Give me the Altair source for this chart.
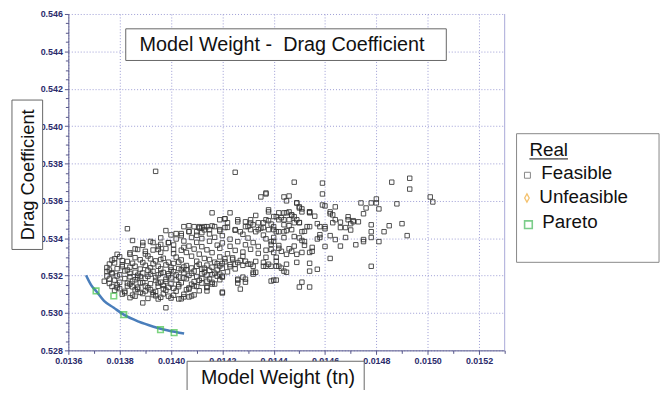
import altair as alt
import pandas as pd

# ---------------- data ----------------
core_points = [
    (.01380, .53301), (.01386, .53296), (.01391, .53305), (.01397, .53293), (.01402, .53299), (.01408, .53304), (.01413, .53292), (.01419, .53300), (.01424, .53295),
    (.01377, .53283), (.01383, .53276), (.01388, .53285), (.01394, .53279), (.01399, .53272), (.01404, .53284), (.01410, .53277), (.01415, .53286), (.01421, .53274), (.01427, .53281), (.01433, .53276),
    (.01376, .53262), (.01381, .53258), (.01385, .53266), (.01390, .53255), (.01393, .53263), (.01398, .53257), (.01401, .53265), (.01406, .53254), (.01411, .53261), (.01414, .53256), (.01418, .53264), (.01423, .53259), (.01430, .53262),
    (.01375, .53243), (.01379, .53237), (.01384, .53245), (.01388, .53235), (.01392, .53242), (.01396, .53236), (.01400, .53244), (.01403, .53238), (.01408, .53241), (.01412, .53234), (.01416, .53245), (.01420, .53239), (.01425, .53236),
    (.01375, .53222), (.01377, .53216), (.01382, .53225), (.01386, .53218), (.01389, .53214), (.01393, .53223), (.01397, .53217), (.01401, .53221), (.01405, .53215), (.01409, .53224), (.01413, .53219), (.01417, .53213), (.01422, .53220),
    (.01375, .53198), (.01380, .53205), (.01384, .53194), (.01387, .53202), (.01391, .53196), (.01395, .53204), (.01399, .53199), (.01403, .53193), (.01407, .53201), (.01410, .53195), (.01414, .53203), (.01418, .53197),
    (.01376, .53182), (.01378, .53176), (.01382, .53184), (.01386, .53178), (.01390, .53185), (.01394, .53174), (.01398, .53181), (.01402, .53177), (.01406, .53183), (.01411, .53175), (.01415, .53182), (.01419, .53178),
    (.01376, .53158), (.01380, .53164), (.01384, .53155), (.01388, .53161), (.01392, .53157), (.01396, .53165), (.01400, .53156), (.01404, .53162), (.01408, .53154), (.01412, .53160), (.01416, .53164),
    (.01377, .53142), (.01379, .53136), (.01383, .53144), (.01387, .53138), (.01391, .53135), (.01395, .53143), (.01399, .53137), (.01403, .53141), (.01407, .53134), (.01410, .53142), (.01414, .53136),
    (.01378, .53121), (.01382, .53116), (.01386, .53124), (.01390, .53118), (.01394, .53115), (.01398, .53122), (.01402, .53117), (.01406, .53125), (.01411, .53119),
    (.01381, .53101), (.01385, .53096), (.01389, .53104), (.01393, .53098), (.01397, .53102), (.01401, .53095), (.01405, .53100), (.01409, .53097),
    (.01384, .53082), (.01391, .53078), (.01396, .53084), (.01400, .53080), (.01404, .53076),
    (.01378, .53290), (.01389, .53270), (.01395, .53250), (.01383, .53230), (.01392, .53208), (.01400, .53188), (.01385, .53170), (.01397, .53148),
    (.01407, .53128), (.01393, .53110), (.01379, .53150), (.01404, .53231), (.01412, .53210), (.01419, .53252), (.01396, .53286), (.01388, .53195),
    (.01377, .53210), (.01409, .53168), (.01401, .53132), (.01387, .53128), (.01382, .53108), (.01415, .53228), (.01399, .53210), (.01405, .53246), (.01386, .53250),
    (.01378, .53268), (.01381, .53248), (.01384, .53212), (.01387, .53188), (.01389, .53162), (.01391, .53228), (.01394, .53190), (.01396, .53212),
    (.01398, .53168), (.01400, .53230), (.01402, .53204), (.01403, .53152), (.01405, .53188), (.01406, .53232), (.01408, .53212), (.01409, .53145),
    (.01410, .53250), (.01412, .53185), (.01413, .53240), (.01414, .53170), (.01416, .53205), (.01417, .53272), (.01418, .53230), (.01420, .53265),
    (.01421, .53290), (.01423, .53248), (.01426, .53270), (.01428, .53255), (.01380, .53130), (.01383, .53160), (.01385, .53140), (.01388, .53110),
    (.01390, .53145), (.01392, .53125), (.01395, .53160), (.01397, .53130), (.01399, .53090), (.01394, .53092), (.01386, .53090), (.01379, .53198),
    (.01376, .53230), (.01374, .53170), (.01381, .53280), (.01392, .53290), (.01403, .53272),
]

band_points = [
    (.01405, .53462), (.01411, .53455), (.01416, .53466), (.01422, .53458), (.01430, .53463), (.01435, .53454),
    (.01398, .53441), (.01407, .53436), (.01413, .53445), (.01419, .53438), (.01425, .53443), (.01433, .53435), (.01440, .53446),
    (.01400, .53418), (.01404, .53425), (.01410, .53416), (.01415, .53423), (.01420, .53414), (.01428, .53421), (.01436, .53417),
    (.01396, .53402), (.01402, .53396), (.01408, .53404), (.01412, .53398), (.01417, .53405), (.01423, .53395), (.01430, .53401), (.01437, .53397), (.01444, .53403),
    (.01392, .53383), (.01399, .53376), (.01405, .53385), (.01410, .53378), (.01415, .53384), (.01420, .53375), (.01426, .53382), (.01432, .53377), (.01440, .53384),
    (.01389, .53362), (.01395, .53356), (.01401, .53364), (.01407, .53358), (.01412, .53355), (.01418, .53363), (.01423, .53357), (.01429, .53365), (.01434, .53356), (.01442, .53361), (.01448, .53358),
    (.01386, .53343), (.01393, .53337), (.01398, .53345), (.01404, .53336), (.01409, .53342), (.01414, .53338), (.01419, .53346), (.01425, .53335), (.01431, .53341), (.01437, .53336), (.01446, .53344),
    (.01384, .53322), (.01390, .53316), (.01396, .53325), (.01401, .53318), (.01406, .53324), (.01411, .53315), (.01416, .53323), (.01422, .53317), (.01428, .53326), (.01434, .53319), (.01440, .53324),
]

upper_points = [
    (.01433, .53522), (.01440, .53516), (.01447, .53524), (.01456, .53518), (.01463, .53525),
    (.01431, .53482), (.01439, .53476), (.01450, .53484), (.01457, .53478), (.01466, .53486),
    (.01445, .53441), (.01452, .53437), (.01470, .53444),
    (.01450, .53402), (.01457, .53396), (.01468, .53404),
    (.01452, .53362), (.01466, .53358), (.01472, .53365),
]

sparse_points = [
    (.01394, .53758), (.01425, .53753), (.01448, .53700), (.01459, .53695), (.01486, .53700), (.01493, .53721), (.01493, .53663),
    (.01501, .53621), (.01502, .53594), (.01459, .53637), (.01435, .53621), (.01437, .53637), (.01437, .53642),
    (.01444, .53621), (.01446, .53626), (.01445, .53600), (.01449, .53589), (.01450, .53562), (.01451, .53557), (.01454, .53541),
    (.01454, .53536), (.01459, .53578), (.01460, .53573), (.01462, .53541), (.01462, .53531), (.01464, .53568), (.01469, .53515),
    (.01469, .53499), (.01471, .53488), (.01464, .53499), (.01463, .53483), (.01466, .53457), (.01468, .53457), (.01458, .53462),
    (.01454, .53462), (.01451, .53435), (.01460, .53462), (.01460, .53451), (.01458, .53419), (.01462, .53414), (.01464, .53393),
    (.01458, .53404), (.01448, .53409), (.01451, .53388), (.01455, .53351), (.01455, .53330), (.01460, .53356), (.01462, .53292),
    (.01457, .53234), (.01454, .53266), (.01454, .53224), (.01451, .53324), (.01449, .53314), (.01449, .53271), (.01447, .53330),
    (.01445, .53314), (.01443, .53330), (.01442, .53346), (.01445, .53261), (.01445, .53218), (.01444, .53224), (.01443, .53240),
    (.01441, .53250), (.01440, .53176), (.01441, .53176), (.01451, .53165), (.01454, .53139), (.01450, .53139),
    (.01480, .53610), (.01478, .53589), (.01480, .53589), (.01474, .53589), (.01476, .53562), (.01481, .53557), (.01488, .53584),
    (.01475, .53531), (.01471, .53494), (.01473, .53488), (.01470, .53478), (.01478, .53472), (.01485, .53467), (.01490, .53478),
    (.01483, .53435), (.01478, .53435), (.01492, .53414), (.01478, .53404), (.01475, .53393), (.01475, .53382), (.01481, .53382),
    (.01478, .53250),
    (.01442, .53536), (.01444, .53536), (.01446, .53541), (.01441, .53515), (.01443, .53510), (.01444, .53499), (.01446, .53499),
    (.01448, .53515), (.01449, .53499), (.01448, .53483), (.01450, .53483), (.01444, .53472), (.01446, .53467), (.01447, .53446),
    (.01440, .53462), (.01441, .53435), (.01442, .53435), (.01444, .53435), (.01440, .53404), (.01439, .53382), (.01439, .53367),
    (.01439, .53340), (.01437, .53298), (.01441, .53298), (.01441, .53277), (.01439, .53250), (.01437, .53499), (.01438, .53541),
    (.01416, .53536), (.01423, .53536), (.01421, .53504), (.01426, .53488), (.01438, .53494), (.01436, .53483), (.01429, .53488),
    (.01432, .53472), (.01414, .53462), (.01417, .53462), (.01412, .53457), (.01409, .53462), (.01407, .53435), (.01410, .53435),
    (.01412, .53430), (.01415, .53446), (.01419, .53446), (.01421, .53457), (.01425, .53446), (.01427, .53435), (.01431, .53446),
    (.01434, .53446), (.01436, .53457), (.01438, .53446),
    (.01383, .53451), (.01385, .53388), (.01389, .53377), (.01393, .53377), (.01396, .53367), (.01399, .53377), (.01402, .53425),
    (.01404, .53414), (.01387, .53340), (.01390, .53330), (.01395, .53340), (.01401, .53340), (.01405, .53351), (.01384, .53314),
    (.01379, .53314),
    (.01419, .53208), (.01420, .53192), (.01417, .53155), (.01414, .53118), (.01420, .53112), (.01426, .53176), (.01426, .53160),
    (.01428, .53192), (.01429, .53165), (.01427, .53128), (.01432, .53208), (.01433, .53218), (.01439, .53171), (.01407, .53086),
    (.01405, .53086), (.01425, .53261), (.01429, .53277), (.01431, .53261), (.01432, .53250), (.01436, .53250), (.01438, .53261),
    (.01428, .53303), (.01424, .53287), (.01420, .53107),
    (.01398, .53028), (.01389, .53054), (.01395, .53075), (.01408, .53091), (.01403, .53075),
    (.01407, .53467), (.01411, .53462), (.01413, .53462), (.01419, .53499), (.01421, .53504), (.01422, .53483), (.01426, .53499),
    (.01429, .53462), (.01431, .53499), (.01434, .53483), (.01438, .53552), (.01442, .53499), (.01445, .53536), (.01447, .53525),
    (.01449, .53589), (.01450, .53568), (.01451, .53541), (.01454, .53541), (.01453, .53462), (.01452, .53382), (.01454, .53324),
    (.01442, .53250), (.01437, .53250), (.01436, .53271), (.01432, .53218), (.01429, .53181), (.01426, .53181), (.01420, .53197),
    (.01416, .53155), (.01414, .53139),
]

pareto_weight = [0.013708, 0.013777, 0.013816, 0.013959, 0.014012]
pareto_drag = [0.53118, 0.53091, 0.52991, 0.52911, 0.52895]

front_weight = [0.013669, 0.013689, 0.013708, 0.013739, 0.013777, 0.013816, 0.013874, 0.013932, 0.013989, 0.014051]
front_drag = [0.53202, 0.53149, 0.53118, 0.53065, 0.53028, 0.52991, 0.52954, 0.52927, 0.52906, 0.52890]

x_tick_values = [0.0136, 0.0137, 0.0138, 0.0139, 0.0140, 0.0141, 0.0142, 0.0143, 0.0144,
                 0.0145, 0.0146, 0.0147, 0.0148, 0.0149, 0.0150, 0.0151, 0.0152, 0.0153]
y_tick_values = [0.528, 0.5285, 0.529, 0.5295, 0.530, 0.5305, 0.531, 0.5315, 0.532, 0.5325,
                 0.533, 0.5335, 0.534, 0.5345, 0.535, 0.5355, 0.536, 0.5365, 0.537, 0.5375,
                 0.538, 0.5385, 0.539, 0.5395, 0.540, 0.5405, 0.541, 0.5415, 0.542, 0.5425,
                 0.543, 0.5435, 0.544, 0.5445, 0.545, 0.5455, 0.546]

legend_items = ["Feasible", "Unfeasible", "Pareto"]

# ---------------- chart ----------------
feasible = pd.DataFrame(core_points + band_points + upper_points + sparse_points, columns=["weight", "drag"])
pareto = pd.DataFrame({"weight": pareto_weight, "drag": pareto_drag})
front = pd.DataFrame({"weight": front_weight, "drag": front_drag, "order": list(range(len(front_weight)))})

W, H = 441, 340
x_scale = alt.Scale(domain=[0.0136, 0.0153], nice=False, zero=False)
y_scale = alt.Scale(domain=[0.528, 0.546], nice=False, zero=False)

AXIS_COL = "#55558a"
GRID_COL = "#9c9cd4"
LAB_COL = "#2b2b6b"

x_major = "round(datum.value*10000) % 2 == 0"
y_major = "round(datum.value*2000) % 4 == 0"

x_axis = alt.Axis(
    values=x_tick_values, title=None,
    labelExpr=f"{x_major} ? format(datum.value, '.4f') : ''",
    labelOverlap=False, labelFlush=False, labelBound=False,
    grid=True, gridDash=[1, 2], gridColor=GRID_COL, gridWidth=1,
    gridOpacity={"condition": {"test": x_major, "value": 1}, "value": 0},
    tickSize={"condition": {"test": x_major, "value": 4}, "value": 3},
    domainColor=AXIS_COL, tickColor=AXIS_COL,
    labelFont="Liberation Sans", labelFontWeight="bold", labelFontSize=9,
    labelColor=LAB_COL, labelPadding=2,
)
y_axis = alt.Axis(
    values=y_tick_values, title=None,
    labelExpr=f"{y_major} ? format(datum.value, '.3f') : ''",
    labelOverlap=False, labelFlush=False, labelBound=False,
    grid=True, gridDash=[1, 2], gridColor=GRID_COL, gridWidth=1,
    gridOpacity={"condition": {"test": y_major, "value": 1}, "value": 0},
    tickSize={"condition": {"test": y_major, "value": 4}, "value": 3},
    domainColor=AXIS_COL, tickColor=AXIS_COL,
    labelFont="Liberation Sans", labelFontWeight="bold", labelFontSize=9,
    labelColor=LAB_COL, labelPadding=2,
)

X = lambda: alt.X("weight:Q", scale=x_scale, axis=x_axis)
Y = lambda: alt.Y("drag:Q", scale=y_scale, axis=y_axis)

right_edge = alt.Chart(pd.DataFrame({"weight": [0.0153]})).mark_rule(
    color="#a8a8d8", strokeWidth=1
).encode(x=X())

points = alt.Chart(feasible).mark_point(
    shape="square", filled=False, size=20, strokeWidth=0.9, color="#333333", opacity=0.95
).encode(x=X(), y=Y())

curve = alt.Chart(front).mark_line(
    color="#4a7ebb", strokeWidth=2.6, interpolate="monotone"
).encode(x=X(), y=Y(), order="order:Q")

pareto_pts = alt.Chart(pareto).mark_point(
    shape="square", filled=False, size=32, strokeWidth=1.6, color="#45c24a"
).encode(x=X(), y=Y())

FONT = "Liberation Sans"


def box(x1, x2, y1, y2, stroke="#666666"):
    return alt.Chart(pd.DataFrame({"b": [0]})).mark_rect(
        fill="white", stroke=stroke, strokeWidth=1
    ).encode(x=alt.value(x1), x2=alt.value(x2), y=alt.value(y1), y2=alt.value(y2))


def label(text, x, y, size, align="left", angle=0):
    return alt.Chart(pd.DataFrame({"t": [text]})).mark_text(
        font=FONT, fontSize=size, color="#111111", align=align, baseline="middle", angle=angle
    ).encode(text="t:N", x=alt.value(x), y=alt.value(y))


title_box = box(58, 382, 15, 47)
title_txt = label("Model Weight -\u00a0 Drag Coefficient", 72, 31, 20)

ytitle_box = box(-57, -26, 87, 238)
ytitle_txt = label("Drag Coefficient", -41, 162.5, 18.5, align="center", angle=270)

xtitle_box = box(120, 299, 351, 392)
xtitle_txt = label("Model Weight (tn)", 134, 368, 19.8)

legend_box = box(453, 597, 121, 251, stroke="#888888")
legend_title = label("Real", 466, 138, 19)
legend_underline = alt.Chart(pd.DataFrame({"u": [0]})).mark_rule(color="#111111", strokeWidth=1).encode(
    x=alt.value(466), x2=alt.value(505), y=alt.value(146.5)
)
leg_feas_sym = alt.Chart(pd.DataFrame({"s": [0]})).mark_point(
    shape="square", filled=False, size=36, strokeWidth=1, color="#555555"
).encode(x=alt.value(464), y=alt.value(163))
leg_unf_sym = alt.Chart(pd.DataFrame({"s": [0]})).mark_point(
    shape="M0,-1L0.55,0L0,1L-0.55,0Z", filled=False, size=70, strokeWidth=1.3, color="#f0a830"
).encode(x=alt.value(463.5), y=alt.value(186))
leg_par_sym = alt.Chart(pd.DataFrame({"s": [0]})).mark_point(
    shape="square", filled=False, size=60, strokeWidth=1.6, color="#45b85a"
).encode(x=alt.value(465), y=alt.value(213))
leg_feas_txt = label(legend_items[0], 478, 161, 19)
leg_unf_txt = label(legend_items[1], 476, 185.5, 19)
leg_par_txt = label(legend_items[2], 479, 210.5, 19)

chart = alt.layer(
    right_edge, points, curve, pareto_pts,
    title_box, title_txt, ytitle_box, ytitle_txt, xtitle_box, xtitle_txt,
    legend_box, legend_title, legend_underline,
    leg_feas_sym, leg_unf_sym, leg_par_sym,
    leg_feas_txt, leg_unf_txt, leg_par_txt,
).properties(
    width=W, height=H,
    autosize=alt.AutoSizeParams(type="none"),
    padding={"left": 61, "top": 4, "right": 159, "bottom": 38},
    background="white",
).configure_view(stroke=None)

chart.save("out.html", embed_options={"renderer": "svg", "actions": False})
